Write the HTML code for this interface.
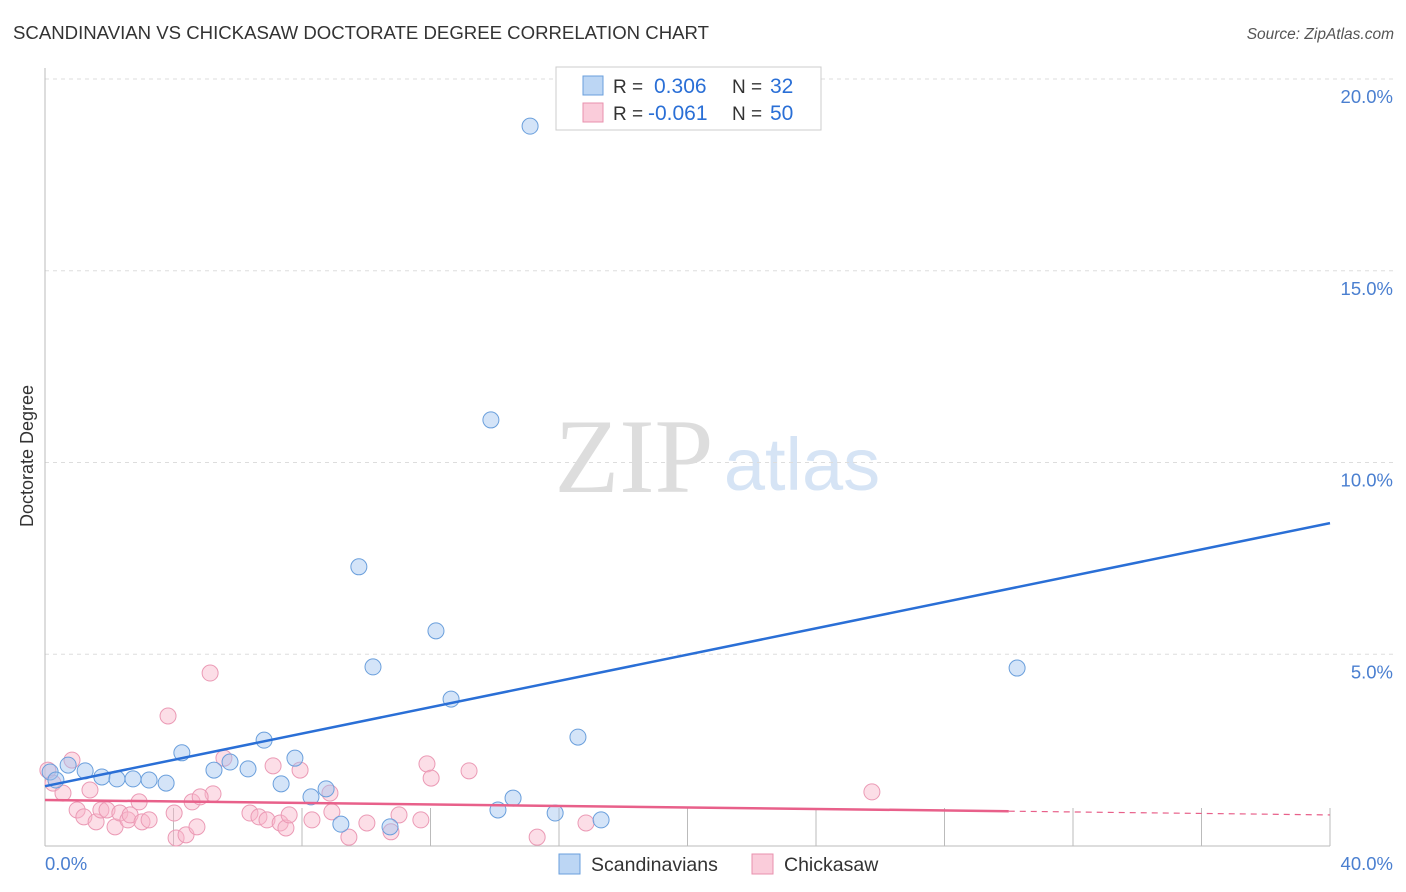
<!DOCTYPE html>
<html><head><meta charset="utf-8"><style>
body{margin:0;background:#fff;font-family:"Liberation Sans",sans-serif}
</style></head><body>
<svg id="c" width="1406" height="892" style="position:absolute;left:0;top:0"></svg>
<script>
const blueX=[0.16,0.34,0.72,1.25,1.77,2.24,2.74,3.24,3.77,4.26,5.26,5.76,6.32,6.82,7.35,7.78,8.28,8.75,9.21,9.77,10.21,10.74,12.17,12.64,13.88,14.10,14.57,15.10,15.88,16.59,17.31,30.26];
const blueY=[1.93,1.72,2.11,1.96,1.80,1.75,1.75,1.72,1.64,2.43,1.98,2.19,2.01,2.76,1.62,2.29,1.28,1.49,0.57,7.28,4.67,0.50,5.61,3.83,11.11,0.94,1.25,18.77,0.86,2.84,0.68,4.64];
const pinkX=[0.09,0.84,0.25,0.56,1.40,1.00,1.21,1.59,1.74,1.93,2.18,2.33,2.58,2.65,2.93,3.02,3.24,3.83,5.14,4.02,4.08,4.39,4.73,4.58,5.23,5.57,6.38,6.66,6.91,7.10,7.32,7.50,7.60,7.94,8.31,8.87,8.93,9.46,10.02,10.77,11.02,11.70,11.89,12.02,13.20,15.32,16.84,25.74,4.83];
const pinkY=[1.98,2.24,1.64,1.38,1.46,0.94,0.76,0.63,0.94,0.94,0.50,0.86,0.68,0.81,1.15,0.63,0.68,3.39,4.51,0.86,0.21,0.29,0.50,1.15,1.36,2.29,0.86,0.76,0.68,2.09,0.60,0.47,0.81,1.98,0.68,1.38,0.89,0.23,0.60,0.37,0.81,0.68,2.14,1.77,1.96,0.23,0.60,1.41,1.28];
const blueTrend=[1.56,8.42];
const pinkTrend=[1.20,0.81];
const pinkSolidEnd=30.0;
const yTicks=[5,10,15,20];
const yTickLabels=["5.0%","10.0%","15.0%","20.0%"];

const svg=document.getElementById('c');const NS='http://www.w3.org/2000/svg';
const X=v=>45+v/40*1285, Y=v=>846-v*38.35;
function el(t,a,p){const e=document.createElementNS(NS,t);for(const k in a)e.setAttribute(k,a[k]);(p||svg).appendChild(e);return e;}
function txt(s,a){const e=el('text',a);e.textContent=s;return e;}
let t=txt('SCANDINAVIAN VS CHICKASAW DOCTORATE DEGREE CORRELATION CHART',{x:13,y:39,'font-size':18.6,fill:'#333'});

t=txt('Source: ZipAtlas.com',{x:1394,y:39,'font-size':15.5,fill:'#555','font-style':'italic','text-anchor':'end'});

t=txt('ZIP',{x:634,y:492,'font-size':106,fill:'#ddd','font-family':'Liberation Serif','text-anchor':'middle'});

t=txt('atlas',{x:802,y:490,'font-size':74,fill:'#d6e4f5','text-anchor':'middle'});

yTicks.forEach((v,i)=>{
 let g=el('line',{x1:45,x2:1394,y1:Y(v),y2:Y(v),stroke:'#ddd','stroke-dasharray':'4,4'});
 
 let l=txt(yTickLabels[i],{x:1393,y:Y(v)+24,'font-size':18.5,fill:'#4a7fd0','text-anchor':'end'});
 
});
let a=el('line',{x1:45,x2:45,y1:68,y2:846,stroke:'#bbb'});
a=el('line',{x1:45,x2:1330,y1:846,y2:846,stroke:'#bbb'});
for(let i=1;i<=10;i++){let k=el('line',{x1:X(i*4),x2:X(i*4),y1:808,y2:846,stroke:'#bbb'});}
t=txt('0.0%',{x:45,y:870,'font-size':18.5,fill:'#4a7fd0'});
t=txt('40.0%',{x:1393,y:870,'font-size':18.5,fill:'#4a7fd0','text-anchor':'end'});
t=txt('Doctorate Degree',{x:33,y:456,'font-size':18,fill:'#333','text-anchor':'middle',transform:'rotate(-90 33 456)'});

pinkX.forEach((v,i)=>{const c=el('circle',{cx:X(v),cy:Y(pinkY[i]),r:8,fill:'rgba(248,182,202,0.45)',stroke:'#eb9ab5','stroke-width':1});
 });
blueX.forEach((v,i)=>{const c=el('circle',{cx:X(v),cy:Y(blueY[i]),r:8,fill:'rgba(160,196,240,0.45)',stroke:'#6a9fdc','stroke-width':1});
 });
let bl=el('line',{x1:X(0),y1:Y(blueTrend[0]),x2:X(40),y2:Y(blueTrend[1]),stroke:'#2a6fd6','stroke-width':2.5});

const pm=pinkTrend[0]+(pinkTrend[1]-pinkTrend[0])*pinkSolidEnd/40;
let pl=el('line',{x1:X(0),y1:Y(pinkTrend[0]),x2:X(pinkSolidEnd),y2:Y(pm),stroke:'#e8608a','stroke-width':2.5});

pl=el('line',{x1:X(pinkSolidEnd),y1:Y(pm),x2:X(40),y2:Y(pinkTrend[1]),stroke:'#e8608a','stroke-width':1.2,'stroke-dasharray':'6,5'});

let lg=el('rect',{x:556,y:67,width:265,height:63,fill:'#fff',stroke:'#ccc'});
[[0,'rgba(160,196,240,0.7)','#6a9fdc','0.306','32',654],[1,'rgba(248,182,202,0.7)','#e891ae','-0.061','50',648]].forEach(r=>{
 const y=76+r[0]*27;
 let s=el('rect',{x:583,y:y,width:20,height:19,fill:r[1],stroke:r[2]});
 let q=txt('R = ',{x:613,y:y+17,'font-size':19,fill:'#333'});
 q=txt(r[3],{x:r[5],y:y+17,'font-size':21,fill:'#2a6fd6'});
 q=txt('N = ',{x:732,y:y+17,'font-size':19,fill:'#333'});
 q=txt(r[4],{x:770,y:y+17,'font-size':21,fill:'#2a6fd6'});
});
[[559,'rgba(160,196,240,0.7)','#6a9fdc','Scandinavians'],[752,'rgba(248,182,202,0.7)','#e891ae','Chickasaw']].forEach(r=>{
 let s=el('rect',{x:r[0],y:854,width:21,height:20,fill:r[1],stroke:r[2]});
 let q=txt(r[3],{x:r[0]+32,y:871,'font-size':19.5,fill:'#333'});
});
</script></body></html>
